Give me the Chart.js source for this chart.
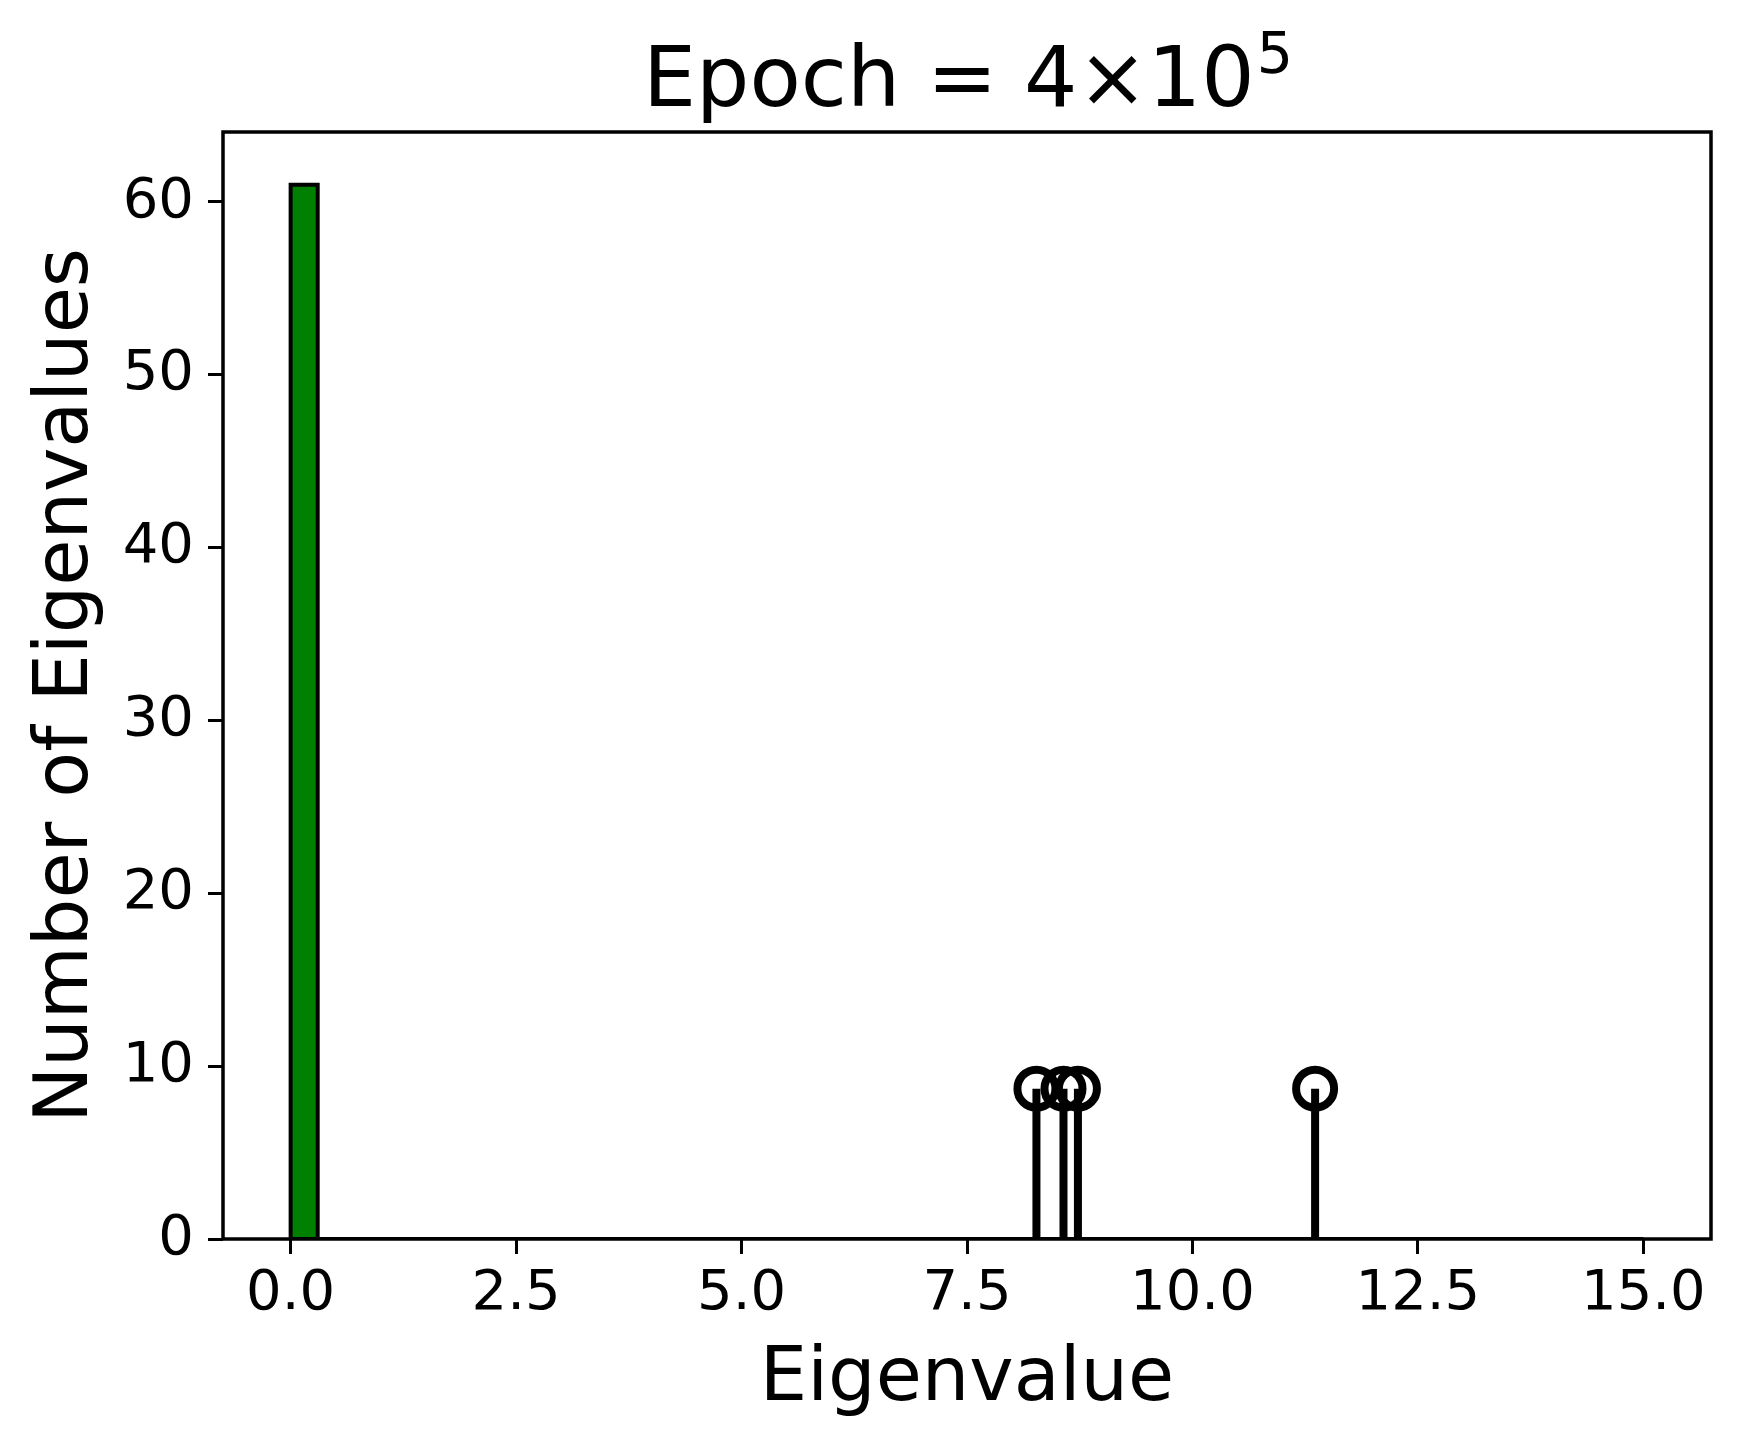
<!DOCTYPE html>
<html>
<head>
<meta charset="utf-8">
<script src="https://cdn.jsdelivr.net/npm/chart.js@4.4.1/dist/chart.umd.min.js"></script>
<style>
  html, body { margin: 0; padding: 0; background: #fff; }
  #wrap { width: 1741px; height: 1446px; }
</style>
</head>
<body>
<div id="wrap"><canvas id="myChart" width="1741" height="1446"></canvas></div>
<script>
// histogram of eigenvalues: bin edges and counts
let histEdges = [0, 0.3];
let histCounts = [61];

// outlier eigenvalues shown as stems
let stemValues = [8.27, 8.57, 8.73, 11.36];
let stemHeight = 8.7;
let stemBaseline = [0, 15];

let xTicks = [0, 2.5, 5, 7.5, 10, 12.5, 15];
let yTicks = [0, 10, 20, 30, 40, 50, 60];

let titleMain = 'Epoch = 4×10';
let titleSup = '5';

let fontFamily = "'DejaVu Sans', sans-serif";

// polygon outline of the histogram bars
let barPoints = [];
histCounts.forEach((c, i) => {
    barPoints.push({x: histEdges[i], y: 0});
    barPoints.push({x: histEdges[i], y: c});
    barPoints.push({x: histEdges[i + 1], y: c});
    barPoints.push({x: histEdges[i + 1], y: 0});
});

// stems separated by gaps
let stemPoints = [];
stemValues.forEach(v => {
    stemPoints.push({x: v, y: 0});
    stemPoints.push({x: v, y: stemHeight});
    stemPoints.push({x: v, y: null});
});
let markerPoints = stemValues.map(v => ({x: v, y: stemHeight}));

let framePlugin = {
    id: 'frame',
    afterDraw(chart) {
        let {ctx, chartArea: a} = chart;
        ctx.save();
        ctx.strokeStyle = '#000';
        ctx.lineWidth = 3.5;
        ctx.strokeRect(a.left, a.top, a.right - a.left, a.bottom - a.top);

        // title with superscript exponent
        ctx.fillStyle = '#000';
        ctx.textBaseline = 'alphabetic';
        ctx.textAlign = 'left';
        ctx.font = '84px ' + fontFamily;
        let w1 = ctx.measureText(titleMain).width;
        ctx.font = '57px ' + fontFamily;
        let w2 = ctx.measureText(titleSup).width;
        let cx = (a.left + a.right) / 2;
        let x0 = cx - (w1 + w2) / 2;
        let base = a.top - 26;
        ctx.font = '84px ' + fontFamily;
        ctx.fillText(titleMain, x0, base);
        ctx.font = '57px ' + fontFamily;
        ctx.fillText(titleSup, x0 + w1 + 2, base - 33);
        ctx.restore();
    }
};

let ctx = document.getElementById('myChart');
let myChart = new Chart(ctx, {
    type: 'line',
    data: {
        datasets: [{
            label: 'markers',
            data: markerPoints,
            showLine: false,
            pointStyle: 'circle',
            pointRadius: 19,
            pointBorderWidth: 8,
            borderColor: '#000',
            pointBackgroundColor: 'rgba(0,0,0,0)',
            order: 0
        }, {
            label: 'stems',
            data: stemPoints,
            borderColor: '#000',
            borderWidth: 8,
            pointRadius: 0,
            spanGaps: false,
            fill: false,
            order: 1
        }, {
            label: 'baseline',
            data: stemBaseline.map(v => ({x: v, y: 0})),
            borderColor: '#000',
            borderWidth: 4,
            pointRadius: 0,
            fill: false,
            order: 2
        }, {
            label: 'histogram',
            data: barPoints,
            borderColor: '#000',
            borderWidth: 4,
            backgroundColor: '#008000',
            fill: 'origin',
            pointRadius: 0,
            tension: 0,
            order: 3
        }]
    },
    options: {
        responsive: false,
        animation: false,
        events: [],
        layout: { padding: { top: 132, right: 30, left: 0, bottom: 0 } },
        plugins: {
            legend: { display: false },
            tooltip: { enabled: false },
            title: { display: false }
        },
        scales: {
            x: {
                type: 'linear',
                min: -0.75,
                max: 15.75,
                afterFit: s => { s.height = 207; },
                afterBuildTicks: s => { s.ticks = xTicks.map(v => ({value: v})); },
                ticks: {
                    font: { family: fontFamily, size: 56 },
                    color: '#000',
                    padding: 7,
                    maxRotation: 0,
                    callback: v => v.toFixed(1)
                },
                grid: { drawOnChartArea: false, tickLength: 15, tickWidth: 3, tickColor: '#000' },
                border: { display: false },
                title: {
                    display: true,
                    text: 'Eigenvalue',
                    color: '#000',
                    font: { family: fontFamily, size: 75, lineHeight: 1 },
                    padding: { top: 0, bottom: 27.5 }
                }
            },
            y: {
                type: 'linear',
                min: 0,
                max: 64.05,
                afterFit: s => { s.width = 223; },
                afterBuildTicks: s => { s.ticks = yTicks.map(v => ({value: v})); },
                ticks: {
                    font: { family: fontFamily, size: 56 },
                    color: '#000',
                    padding: 14
                },
                grid: { drawOnChartArea: false, tickLength: 15, tickWidth: 3, tickColor: '#000' },
                border: { display: false },
                title: {
                    display: true,
                    text: 'Number of Eigenvalues',
                    color: '#000',
                    font: { family: fontFamily, size: 75, lineHeight: 1 },
                    padding: { top: 30, bottom: 0 }
                }
            }
        }
    },
    plugins: [framePlugin]
});
</script>
</body>
</html>
